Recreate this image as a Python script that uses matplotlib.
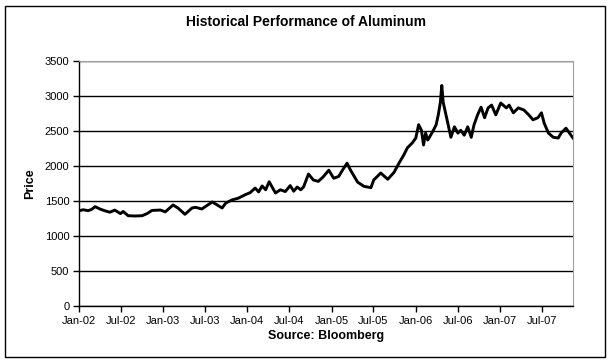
import matplotlib
matplotlib.use("Agg")
import matplotlib.pyplot as plt
import matplotlib.dates as mdates
from matplotlib.patches import Rectangle
import pandas as pd

plt.rcParams['font.family'] = ['Liberation Sans', 'DejaVu Sans']

# months elapsed since 1 Jan 2002
months = [0.0, 0.6, 1.3, 1.8, 2.3, 3.0, 3.7, 4.4, 5.1, 5.9, 6.3, 7.0, 8.0, 9.0,
          9.7, 10.4, 11.6, 12.3, 13.4, 14.1, 15.1, 16.1, 16.6, 17.5, 18.3, 19.0,
          20.4, 20.9, 21.8, 22.7, 23.7, 24.4, 25.1, 25.6, 26.1, 26.6, 27.1, 27.6,
          28.0, 28.7, 29.4, 30.1, 30.6, 31.1, 31.6, 32.0, 32.7, 33.4, 34.1, 34.8,
          35.6, 36.3, 37.0, 37.7, 38.2, 38.7, 39.7, 40.6, 41.6, 42.0, 43.0, 44.0,
          44.9, 45.6, 46.3, 46.8, 47.5, 48.0, 48.4, 48.8, 49.1, 49.4, 49.7, 50.4,
          50.9, 51.2, 51.5, 51.7, 51.9, 52.3, 53.0, 53.5, 54.0, 54.4, 54.9, 55.4,
          55.9, 56.3, 56.8, 57.3, 57.8, 58.3, 58.8, 59.4, 60.1, 60.9, 61.3, 61.9,
          62.6, 63.4, 64.1, 64.7, 65.4, 65.9, 66.3, 66.9, 67.6, 68.3, 68.7, 69.4,
          69.9, 70.4]
prices = [1360, 1375, 1362, 1380, 1419, 1385, 1360, 1340, 1370, 1320, 1350, 1290, 1286, 1290,
          1320, 1365, 1371, 1345, 1443, 1400, 1310, 1400, 1410, 1386, 1440, 1486,
          1400, 1470, 1515, 1540, 1590, 1620, 1685, 1630, 1715, 1660, 1775, 1685,
          1615, 1660, 1635, 1720, 1640, 1700, 1660, 1700, 1885, 1800, 1780, 1845,
          1940, 1825, 1850, 1965, 2040, 1940, 1770, 1710, 1690, 1800, 1900, 1810,
          1910, 2040, 2160, 2260, 2330, 2400, 2590, 2510, 2300, 2470, 2370, 2490,
          2590, 2730, 2910, 3150, 2910, 2730, 2410, 2560, 2470, 2510, 2440, 2560,
          2410, 2590, 2730, 2840, 2690, 2830, 2870, 2730, 2900, 2830, 2870, 2760,
          2830, 2800, 2730, 2660, 2690, 2760, 2610, 2470, 2410, 2400, 2470, 2540,
          2470, 2400]

title = "Historical Performance of Aluminum"
xlabel = "Source: Bloomberg"
ylabel = "Price"
yticks = [0, 500, 1000, 1500, 2000, 2500, 3000, 3500]

start = pd.Timestamp("2002-01-01")
dates = [start + pd.to_timedelta(m * 30.4375, unit="D") for m in months]

fig = plt.figure(figsize=(6.12, 3.62), dpi=100)
ax = fig.add_axes([79/612, 1-306/362, (573-79)/612, (306-61)/362])

ax.plot(dates, prices, color="black", linewidth=2.1, solid_joinstyle="round")

ax.set_ylim(0, 3500)
ax.set_yticks(yticks)
ax.set_xlim(start, dates[-1])
ax.xaxis.set_major_locator(mdates.MonthLocator(bymonth=[1, 7]))
ax.xaxis.set_major_formatter(mdates.DateFormatter("%b-%y"))

ax.grid(axis="y", color="black", linewidth=1.0)
ax.set_axisbelow(True)
for s in ["top", "right"]:
    ax.spines[s].set_color("#a0a0a0")
for s in ["left", "bottom"]:
    ax.spines[s].set_color("black")
    ax.spines[s].set_linewidth(1.0)
ax.tick_params(axis="both", direction="out", length=4, width=1, labelsize=8, colors="black", pad=3)

ax.set_xlabel(xlabel, fontsize=9, fontweight="bold", labelpad=3)
ax.set_ylabel(ylabel, fontsize=9, fontweight="bold", labelpad=6)
fig.text(0.5, 1-22/362, title, ha="center", va="center", fontsize=10, fontweight="bold")

fig.patches.append(Rectangle((5/612, 1-357/362), 600/612, 351/362, transform=fig.transFigure,
                             fill=False, edgecolor="black", linewidth=1.0))

fig.savefig("out.png", dpi=100, facecolor="white")
